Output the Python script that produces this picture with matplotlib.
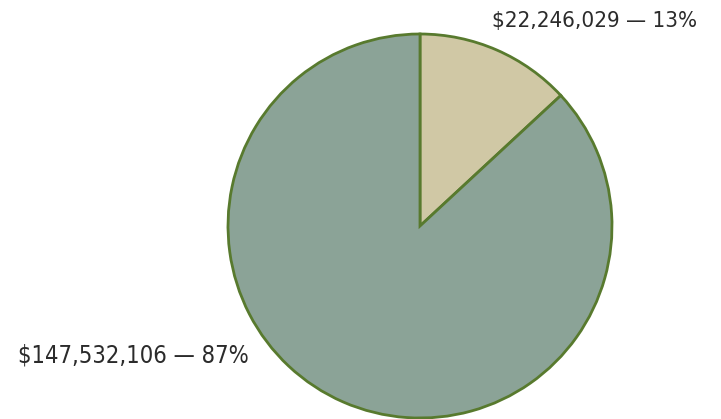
import matplotlib
matplotlib.use('Agg')
import matplotlib.pyplot as plt

# data
labels = ['Part A', 'Part B']
amounts = [22246029, 147532106]
percents = [13, 87]
colors = ['#D0C8A5', '#8BA397']
edge = '#587A2E'

fig = plt.figure(figsize=(7.21, 4.19), dpi=100)
ax = fig.add_axes([228/721, 1/419, 384/721, 384/419])
ax.pie(amounts, colors=colors, startangle=90, counterclock=False,
       wedgeprops=dict(edgecolor=edge, linewidth=2))
ax.set_xlim(-1, 1)
ax.set_ylim(-1, 1)
ax.set_aspect('equal')
ax.axis('off')

font = dict(family=['DejaVu Sans'], fontstretch='condensed', color='#2b2b2b')
fig.text(697/721, 1 - 21/419, '${:,} — {}%'.format(amounts[0], percents[0]),
         ha='right', va='center', fontsize=16, **font)
fig.text(18/721, 1 - 355/419, '${:,} — {}%'.format(amounts[1], percents[1]),
         ha='left', va='center', fontsize=17, **font)

fig.savefig('out.png', dpi=100)
